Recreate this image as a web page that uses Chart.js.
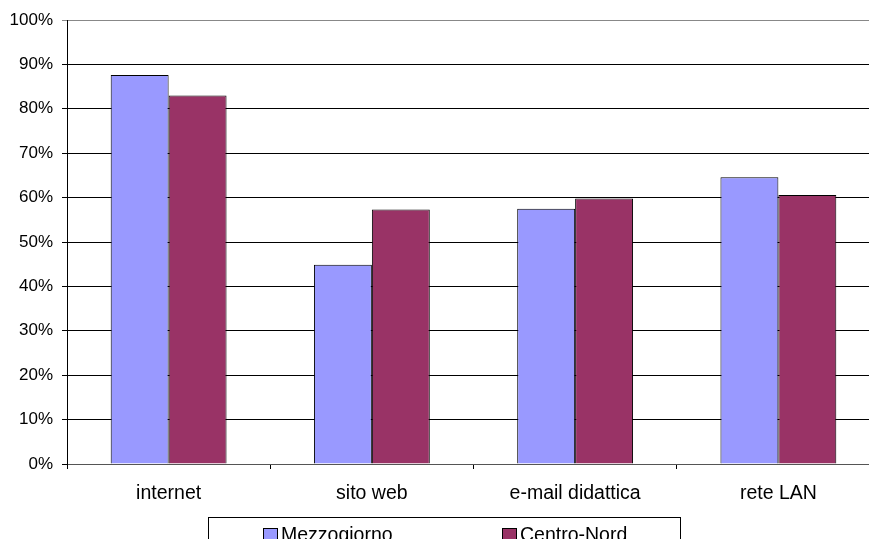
<!DOCTYPE html>
<html>
<head>
<meta charset="utf-8">
<script src="https://cdn.jsdelivr.net/npm/chart.js@4/dist/chart.umd.min.js"></script>
<style>
  html, body { margin: 0; padding: 0; background: #fff; overflow: hidden; width: 869px; height: 539px; }
  #wrap { position: absolute; left: 0; top: 0; width: 900px; height: 539px; }
  #legend { position: absolute; left: 208px; top: 517px; width: 473px; height: 40px; border: 1px solid #000; box-sizing: border-box; font-family: "Liberation Sans", Arial, sans-serif; font-size: 19.5px; color: #000; }
  .item { position: absolute; top: 5px; white-space: nowrap; line-height: 22px; }
  .sw { display: inline-block; width: 15px; height: 14px; border: 1px solid #000; vertical-align: -1px; margin-right: 3px; box-sizing: border-box; }
</style>
</head>
<body>
<div id="wrap"><canvas id="c" width="900" height="539"></canvas></div>
<div id="legend"></div>
<script>
const categories = ["internet", "sito web", "e-mail didattica", "rete LAN"];
const seriesNames = ["Mezzogiorno", "Centro-Nord"];
const mezzogiorno = [87.6, 44.9, 57.5, 64.6];
const centroNord = [83.0, 57.3, 59.8, 60.6];
const colors = ["#9999FF", "#993366"];
const yTicks = [0, 10, 20, 30, 40, 50, 60, 70, 80, 90, 100];

const yFont = { family: "'Liberation Sans', Arial, sans-serif", size: 17 };
const xFont = { family: "'Liberation Sans', Arial, sans-serif", size: 19.5 };

new Chart(document.getElementById('c'), {
  type: 'bar',
  data: {
    labels: categories,
    datasets: [
      { label: seriesNames[0], data: mezzogiorno, backgroundColor: colors[0], borderColor: '#000', borderWidth: 1 },
      { label: seriesNames[1], data: centroNord, backgroundColor: colors[1], borderColor: '#000', borderWidth: 1 }
    ]
  },
  options: {
    responsive: false,
    animation: false,
    devicePixelRatio: 1,
    layout: { padding: { left: 0, right: 20, top: 20, bottom: 0 } },
    plugins: { legend: { display: false }, tooltip: { enabled: false } },
    datasets: { bar: { barPercentage: 1.0, categoryPercentage: 0.57 } },
    scales: {
      x: {
        afterFit: s => { s.height = 75; },
        grid: { drawOnChartArea: false, drawTicks: true, tickLength: 5, color: '#000', offset: true },
        border: { display: true, color: '#555', width: 1 },
        ticks: { color: '#000', font: xFont, padding: 13, maxRotation: 0 }
      },
      y: {
        min: 0, max: 100,
        afterFit: s => { s.width = 67; },
        afterBuildTicks: s => { s.ticks = yTicks.map(v => ({ value: v })); },
        grid: { color: ctx => (ctx.tick && ctx.tick.value === 100) ? '#888' : '#000', lineWidth: 1, tickLength: 5, drawTicks: true },
        border: { display: true, color: '#000', width: 1 },
        ticks: { color: '#000', font: yFont, padding: 9, callback: v => v + '%' }
      }
    }
  }
});

const lg = document.getElementById('legend');
const lefts = [54, 293];
seriesNames.forEach((n, i) => {
  const d = document.createElement('div');
  d.className = 'item';
  d.style.left = lefts[i] + 'px';
  d.innerHTML = '<span class="sw" style="background:' + colors[i] + '"></span>' + n;
  lg.appendChild(d);
});
</script>
</body>
</html>
